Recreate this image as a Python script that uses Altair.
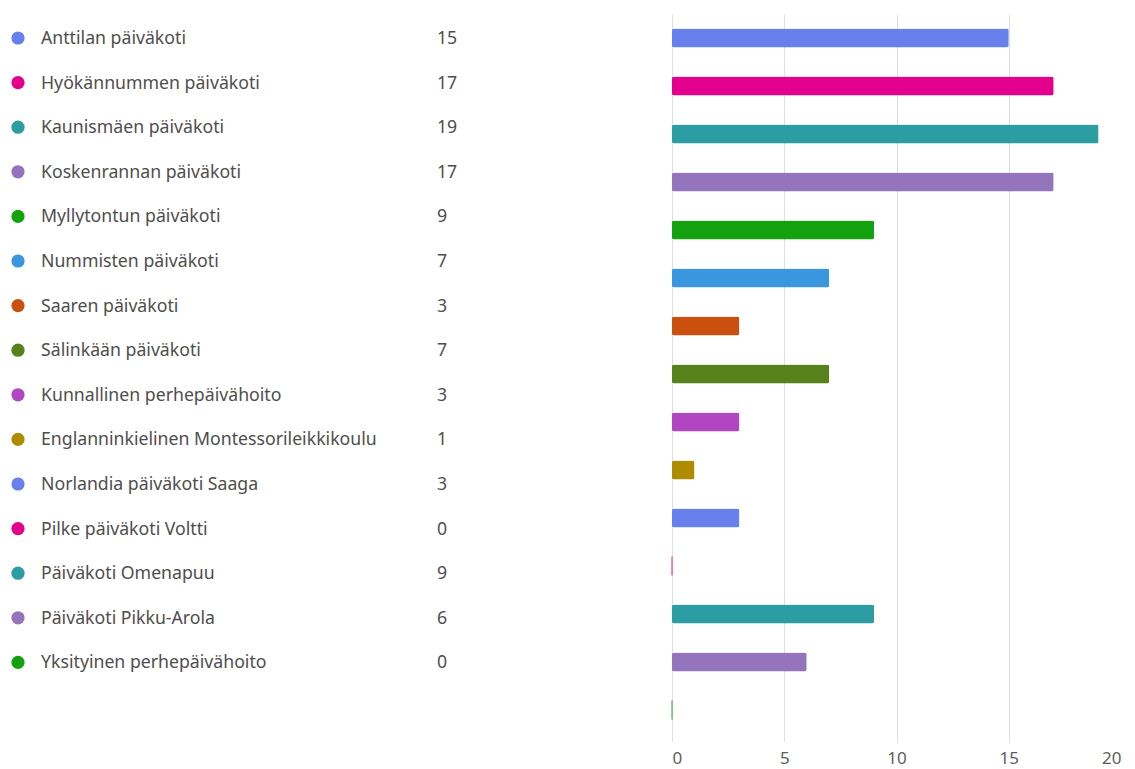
import altair as alt
import pandas as pd

names = [
    "Anttilan päiväkoti",
    "Hyökännummen päiväkoti",
    "Kaunismäen päiväkoti",
    "Koskenrannan päiväkoti",
    "Myllytontun päiväkoti",
    "Nummisten päiväkoti",
    "Saaren päiväkoti",
    "Sälinkään päiväkoti",
    "Kunnallinen perhepäivähoito",
    "Englanninkielinen Montessorileikkikoulu",
    "Norlandia päiväkoti Saaga",
    "Pilke päiväkoti Voltti",
    "Päiväkoti Omenapuu",
    "Päiväkoti Pikku-Arola",
    "Yksityinen perhepäivähoito",
]
values = [15, 17, 19, 17, 9, 7, 3, 7, 3, 1, 3, 0, 9, 6, 0]
palette = ["#6780ec", "#e3008c", "#2c9ea3", "#9374bd", "#13a10e",
           "#3a96dd", "#ca5010", "#57811b", "#b146c2", "#ae8c00"]

colors = [palette[i % len(palette)] for i in range(len(names))]
df = pd.DataFrame({"name": names, "value": values, "color": colors})
df["label"] = df["value"].astype(str)

FONT = "Noto Sans"
TEXT_COLOR = "#4f4e4d"

# Left list (legend-like)
ylist = alt.Y("name:N", sort=names, axis=None,
              scale=alt.Scale(type="point", range=[24, 648.4], padding=0))
base_l = alt.Chart(df).encode(y=ylist)
dots = base_l.mark_circle(size=175, opacity=1).encode(
    x=alt.value(10), color=alt.Color("color:N", scale=None))
txt = base_l.mark_text(align="left", baseline="middle", fontSize=17.7,
                       font=FONT, color=TEXT_COLOR, dy=1).encode(
    x=alt.value(33), text="name:N")
vals = base_l.mark_text(align="left", baseline="middle", fontSize=17.7,
                        font=FONT, color=TEXT_COLOR, dy=1).encode(
    x=alt.value(429), text="label:N")
left = alt.layer(dots, txt, vals).properties(width=655, height=728)

# Right bar chart
ybar = alt.Y("name:N", sort=names, axis=None,
             scale=alt.Scale(paddingInner=0.6, paddingOuter=0.3833, align=0.391))
bars = alt.Chart(df).mark_bar(cornerRadius=2).encode(
    y=ybar,
    x=alt.X("value:Q",
            scale=alt.Scale(domain=[0, 20], nice=False),
            axis=alt.Axis(values=[0, 5, 10, 15, 20], title=None, domain=False,
                          ticks=False, grid=True, gridColor="#e1dfdd",
                          gridWidth=1, labelColor="#605e5c", labelFontSize=17,
                          labelFont=FONT, labelPadding=8)),
    color=alt.Color("color:N", scale=None),
)
zero = alt.Chart(df).transform_filter("datum.value == 0").mark_tick(
    thickness=1.5, size=19, opacity=0.6).encode(
    y=ybar,
    x=alt.X("value:Q"),
    color=alt.Color("color:N", scale=None),
)
right = alt.layer(bars, zero).properties(width=449, height=728)

chart = alt.hconcat(left, right, spacing=8).properties(
    padding={"left": 0, "top": 6, "right": 0, "bottom": 4},
    background="white",
).configure_view(stroke=None)

chart.save("out.html", embed_options={"renderer": "svg", "actions": False})
